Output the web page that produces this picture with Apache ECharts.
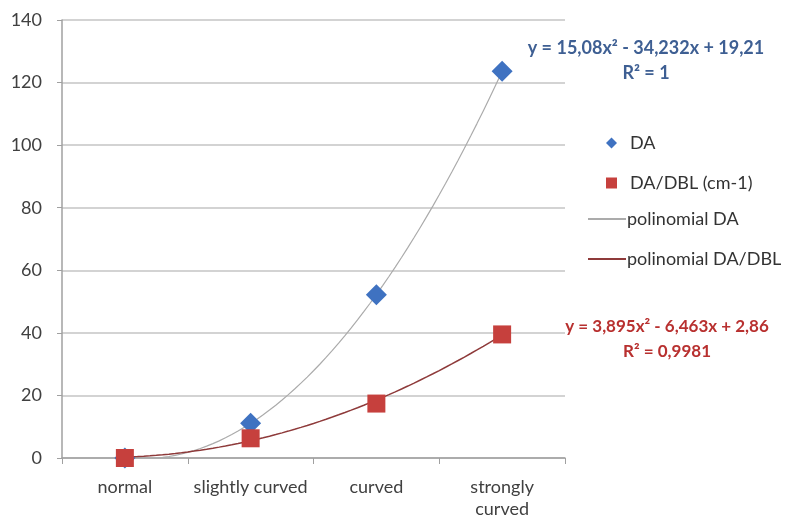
<!DOCTYPE html>
<html>
<head>
<meta charset="utf-8">
<script src="https://cdn.jsdelivr.net/npm/echarts@6/dist/echarts.min.js"></script>
<style>
  html, body { margin: 0; padding: 0; background: #fff; }
  #chart { width: 800px; height: 520px; }
</style>
</head>
<body>
<div id="chart"></div>
<script>
// Curvature classes on the x axis
const categories = ['normal', 'slightly curved', 'curved', 'strongly\ncurved'];

// Measured values per class
const daValues = [0, 11.1, 52.2, 123.6];
const daDblValues = [0, 6.3, 17.4, 39.5];

// Second-order polynomial trendlines: [a, b, c] for y = a·x² + b·x + c, x = 1..4
const daPoly = [15.08, -34.232, 19.21];
const daDblPoly = [3.895, -6.463, 2.86];

// Y axis ticks
const yTicks = [0, 20, 40, 60, 80, 100, 120, 140];

const FONT = 'Lato';

function trendPoints(coef) {
  const pts = [];
  for (let i = 0; i <= 60; i++) {
    const x = 1 + i * 0.05;
    pts.push([x, coef[0] * x * x + coef[1] * x + coef[2]]);
  }
  return pts;
}

const chart = echarts.init(document.getElementById('chart'));
chart.setOption({
  animation: false,
  textStyle: { fontFamily: FONT },
  grid: { left: 62, right: 235, top: 20, bottom: 60 },
  xAxis: [
    {
      type: 'category',
      data: categories,
      boundaryGap: true,
      axisLine: { lineStyle: { color: '#a0a0a0', width: 1.5 } },
      axisTick: { show: true, alignWithLabel: false, interval: 0, length: 6, lineStyle: { color: '#a0a0a0' } },
      axisLabel: { interval: 0, hideOverlap: false, color: '#404040', fontSize: 18, margin: 18, lineHeight: 22, fontFamily: FONT },
      splitLine: { show: false }
    },
    {
      type: 'value',
      min: 0.5,
      max: 4.5,
      show: false
    }
  ],
  yAxis: {
    type: 'value',
    min: yTicks[0],
    max: yTicks[yTicks.length - 1],
    interval: 20,
    axisLine: { show: true, lineStyle: { color: '#a0a0a0', width: 1.5 } },
    axisTick: { show: true, length: 5, lineStyle: { color: '#a0a0a0' } },
    axisLabel: { color: '#404040', fontSize: 18, margin: 20, fontFamily: FONT },
    splitLine: { lineStyle: { color: '#c4c4c4', width: 1.5 } }
  },
  legend: [
    {
      orient: 'vertical',
      left: 601,
      top: 129,
      itemWidth: 11,
      itemHeight: 11,
      itemGap: 22,
      textStyle: { color: '#333', fontSize: 18, fontFamily: FONT, padding: [0, 0, 0, 8] },
      data: [
        { name: 'DA', icon: 'diamond', itemStyle: { color: '#3f72c1', opacity: 1 } },
        { name: 'DA/DBL (cm-1)', icon: 'rect', itemStyle: { color: '#c6403d', opacity: 1 } }
      ]
    },
    {
      orient: 'vertical',
      left: 583,
      top: 205,
      itemWidth: 38,
      itemHeight: 2,
      itemGap: 22,
      textStyle: { color: '#333', fontSize: 18, fontFamily: FONT, padding: [0, 0, 0, -4] },
      data: [
        { name: 'polinomial DA', icon: 'rect' },
        { name: 'polinomial DA/DBL', icon: 'rect' }
      ]
    }
  ],
  series: [
    {
      name: 'polinomial DA',
      type: 'line',
      xAxisIndex: 1,
      data: trendPoints(daPoly),
      showSymbol: false,
      color: '#ababab',
      lineStyle: { color: '#ababab', width: 1.2 },
      z: 2
    },
    {
      name: 'polinomial DA/DBL',
      type: 'line',
      xAxisIndex: 1,
      data: trendPoints(daDblPoly),
      showSymbol: false,
      color: '#8e3a3a',
      lineStyle: { color: '#8e3a3a', width: 1.5 },
      z: 2
    },
    {
      name: 'DA',
      type: 'scatter',
      xAxisIndex: 0,
      data: daValues,
      symbol: 'diamond',
      symbolSize: [21, 21],
      itemStyle: { color: '#3f72c1', opacity: 1 },
      z: 3
    },
    {
      name: 'DA/DBL (cm-1)',
      type: 'scatter',
      xAxisIndex: 0,
      data: daDblValues,
      symbol: 'rect',
      symbolSize: 18,
      itemStyle: { color: '#c6403d', opacity: 1 },
      z: 4
    }
  ],
  graphic: [
    {
      type: 'text',
      x: 646,
      y: 36,
      style: {
        text: 'y = 15,08x² - 34,232x + 19,21\nR² = 1',
        fill: '#3e5f93',
        font: 'bold 18px ' + FONT,
        align: 'center',
        lineHeight: 25
      }
    },
    {
      type: 'text',
      x: 667,
      y: 314,
      style: {
        text: 'y = 3,895x² - 6,463x + 2,86\nR² = 0,9981',
        fill: '#b8302f',
        font: 'bold 17px ' + FONT,
        align: 'center',
        lineHeight: 25
      }
    }
  ]
});
</script>
</body>
</html>
